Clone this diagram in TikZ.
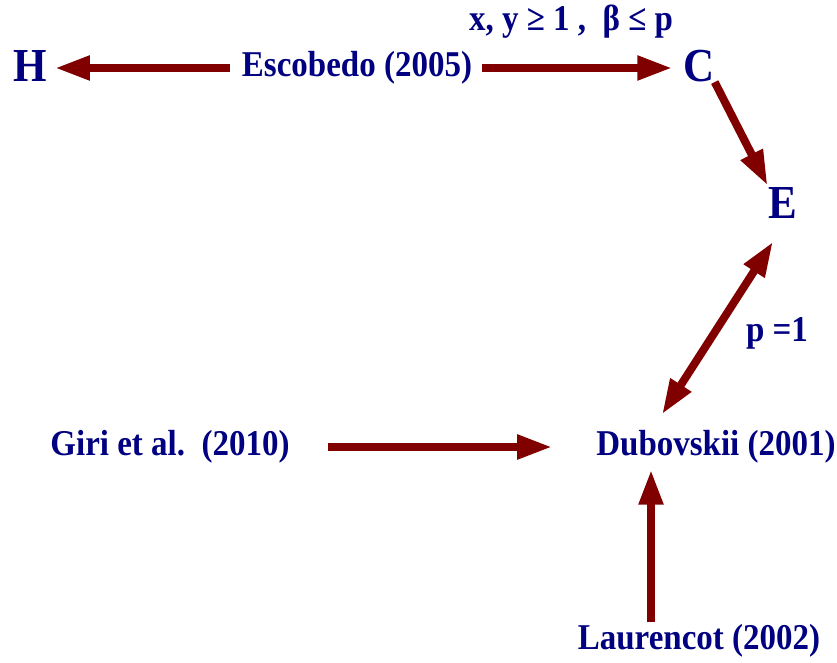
\documentclass[tikz,border=0pt]{standalone}
\usepackage{fontspec}
\setmainfont{Liberation Serif}
\usetikzlibrary{arrows.meta}
\definecolor{navy}{RGB}{0,0,128}
\definecolor{maroon}{RGB}{128,0,0}
\begin{document}
\begin{tikzpicture}[x=1pt, y=1pt,
    txt/.style={text=navy, inner sep=0pt, yscale=1.1, font=\bfseries\fontsize{33}{36}\selectfont},
    big/.style={txt, font=\bfseries\fontsize{43}{46}\selectfont},
    arr/.style={draw=maroon, line width=8pt, -{Triangle[length=35pt,width=23pt]}}]
    \useasboundingbox (0,0) rectangle (837,662);
    \draw (30,596) node[big](hh){H};
    \draw (357,594) node[txt](escb){Escobedo (2005)};
    \draw (699,596) node[big](cc){C};
    \draw (571,640) node[txt](cond){x, y ≥ 1 ,\ \ β ≤ p};
    \draw (783,459) node[big](ee){E};
    \draw (777,329) node[txt](pone){p =1};
    \draw (170,215) node[txt](giri){Giri et al.\ \ (2010)};
    \draw (716,215) node[txt](dubv){Dubovskii (2001)};
    \draw (699,21) node[txt](laur){Laurencot (2002)};
    \draw[arr, shorten <=12pt, shorten >=8pt] (escb.west) -- (escb.west -| hh.east);
    \draw[arr, shorten <=10pt, shorten >=11pt] (escb.east) -- (escb.east -| cc.west);
    \draw[arr, shorten >=2pt] (cc.south east) -- (ee.north west);
    \draw[arr, {Triangle[length=35pt,width=23pt]}-{Triangle[length=35pt,width=23pt]}]
        ([shift={(-54,16)}]dubv.north) -- ([shift={(-10,-23)}]ee.south);
    \draw[arr, shorten <=38pt, shorten >=44pt] (giri.east) -- (giri.east -| dubv.west);
    \draw[arr, shorten <=2pt, shorten >=6pt] ([xshift=-48pt]laur.north) -- ([xshift=-48pt]laur.north |- dubv.south);
\end{tikzpicture}
\end{document}
